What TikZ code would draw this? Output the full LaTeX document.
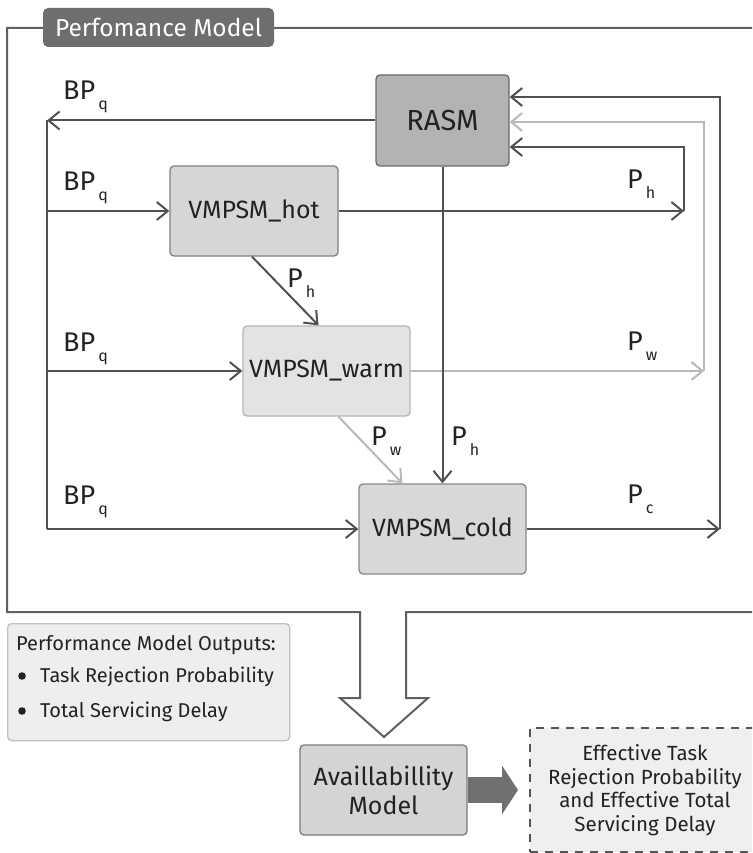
\documentclass[tikz,border=0pt]{standalone}
\usepackage{fontspec}
\setmainfont{Fira Sans}
\usetikzlibrary{arrows.meta}

\definecolor{wiredark}{HTML}{505050}
\definecolor{wirelight}{HTML}{B8B8B8}
\definecolor{framecol}{HTML}{606060}
\definecolor{rasmfill}{HTML}{B3B3B3}
\definecolor{rasmedge}{HTML}{6A6A6A}
\definecolor{hotfill}{HTML}{D6D6D6}
\definecolor{hotedge}{HTML}{808080}
\definecolor{warmfill}{HTML}{E3E3E3}
\definecolor{warmedge}{HTML}{B5B5B5}
\definecolor{coldfill}{HTML}{D8D8D8}
\definecolor{coldedge}{HTML}{888888}
\definecolor{outfill}{HTML}{EEEEEE}
\definecolor{outedge}{HTML}{C0C0C0}
\definecolor{availfill}{HTML}{D4D4D4}
\definecolor{availedge}{HTML}{7A7A7A}
\definecolor{bigarrow}{HTML}{707070}
\definecolor{resfill}{HTML}{EFEFEF}
\definecolor{resedge}{HTML}{555555}
\definecolor{tabfill}{HTML}{6E6E6E}
\definecolor{ink}{HTML}{222222}

% label with a lowered small index, e.g. BP with q
\newcommand{\idx}[2]{#1\hspace{3pt}\raisebox{-10pt}{\fontsize{16}{16}\selectfont #2}}

\begin{document}
\begin{tikzpicture}[x=1pt,y=-1pt,
  wire/.style={draw=wiredark, line width=2pt},
  lightwire/.style={draw=wirelight, line width=2pt},
  arr/.style={-{Straight Barb[length=11pt,width=18pt]}},
  stage/.style={rounded corners=4pt, line width=1.3pt, inner sep=0pt,
    text=ink, font=\fontsize{25}{30}\selectfont},
  lab/.style={anchor=base west, inner sep=0pt, text=ink,
    font=\fontsize{27}{30}\selectfont},
  frame/.style={draw=framecol, line width=2pt},
]
\clip (0,0) rectangle (752,853);

% outer frame of the performance model, ending in a hollow arrow
\draw[frame] (760,28) -- (7,28) -- (7,612) -- (360,612) -- (360,698)
  -- (340,698) -- (384,737) -- (428,698) -- (406,698) -- (406,612) -- (760,612);
\node[fill=tabfill, rounded corners=5pt, minimum width=231pt, minimum height=39pt,
  inner sep=0pt, text=white, font=\fontsize{24.5}{28}\selectfont]
  (title) at (158.5,27.5) {Perfomance Model};

% sub-models
\node[stage, fill=rasmfill, draw=rasmedge, minimum width=133pt, minimum height=91pt,
  font=\fontsize{29}{32}\selectfont]
  (rasm) at (442.5,120.5) {RASM};
\node[stage, fill=hotfill, draw=hotedge, minimum width=168pt, minimum height=90pt]
  (hot) at (254,211) {VMPSM\_hot};
\node[stage, fill=warmfill, draw=warmedge, minimum width=167pt, minimum height=90pt]
  (warm) at (326.5,371) {VMPSM\_warm};
\node[stage, fill=coldfill, draw=coldedge, minimum width=167pt, minimum height=90pt]
  (cold) at (442.5,529) {VMPSM\_cold};

% blocking-probability bus on the left
\coordinate (busTop) at (47,120.5);
\coordinate (busHot) at (47,211);
\coordinate (busWarm) at (47,371);
\coordinate (busCold) at (47,529);
\draw[wire,arr] (rasm.west) -- (busTop);
\draw[wire] (busTop) -- (busCold);
\draw[wire,arr] (busHot) -- (hot.west);
\draw[wire,arr] (busWarm) -- (warm.west);
\draw[wire,arr] (busCold) -- (cold.west);

% outputs fed back to RASM
\coordinate (hotOut) at (684,211);
\coordinate (warmOut) at (704,371);
\coordinate (coldOut) at (720,529);
\draw[wire,arr] (hot.east) -- (hotOut);
\draw[wire,arr] (hotOut) |- ([yshift=-26.5pt]rasm.east);
\draw[lightwire,arr] (warm.east) -- (warmOut);
\draw[lightwire,arr] (warmOut) |- ([yshift=-1.5pt]rasm.east);
\draw[wire,arr] (cold.east) -- (coldOut);
\draw[wire,arr] (coldOut) |- ([yshift=23.5pt]rasm.east);

% cascade between pools
\draw[wire,arr] ([xshift=-2pt]hot.south) -- ([xshift=-8pt]warm.north);
\draw[lightwire,arr] ([xshift=12pt]warm.south) -- ([xshift=-40pt]cold.north);
\draw[wire,arr] (rasm.south) -- (cold.north);

% probabilities
\node[lab] (bq1) at (63,100) {\idx{BP}{q}};
\node[lab] (bq2) at (63,190) {\idx{BP}{q}};
\node[lab] (bq3) at (63,351) {\idx{BP}{q}};
\node[lab] (bq4) at (63,504) {\idx{BP}{q}};
\node[lab] (ph1) at (627,188) {\idx{P}{h}};
\node[lab] (pw1) at (627,350) {\idx{P}{w}};
\node[lab] (pc1) at (627,503) {\idx{P}{c}};
\node[lab] (ph2) at (287,287) {\idx{P}{h}};
\node[lab] (pw2) at (371,445) {\idx{P}{w}};
\node[lab] (ph3) at (451,445) {\idx{P}{h}};

% outputs of the performance model
\node[fill=outfill, draw=outedge, line width=1.3pt, rounded corners=4pt,
  anchor=north west, minimum width=282pt, minimum height=117pt, inner sep=0pt]
  (outs) at (7,623) {};
\node[anchor=base west, inner sep=0pt, text=ink, font=\fontsize{20}{24}\selectfont]
  (outhead) at (16,650) {Performance Model Outputs:};
\fill[ink] (22,676) circle (3.8pt);
\fill[ink] (22,711) circle (3.8pt);
\node[anchor=base west, inner sep=0pt, text=ink, font=\fontsize{20}{24}\selectfont]
  (out1) at (40,682) {Task Rejection Probability};
\node[anchor=base west, inner sep=0pt, text=ink, font=\fontsize{20}{24}\selectfont]
  (out2) at (40,717) {Total Servicing Delay};

% availability model and its result
\node[stage, fill=availfill, draw=availedge, minimum width=167pt, minimum height=90pt,
  align=center, font=\fontsize{25}{29}\selectfont]
  (avail) at (383.5,790) {Availlabillity\\Model};
\node[fill=resfill, draw=resedge, line width=2pt, dash pattern=on 8pt off 7pt,
  anchor=north west, minimum width=230pt, minimum height=124pt, inner sep=0pt,
  align=center, text=ink, font=\fontsize{20.5}{23.5}\selectfont]
  (result) at (529,727) {Effective Task\\Rejection Probability\\and Effective Total\\Servicing Delay};
\draw[draw=bigarrow, line width=26pt, shorten >=11pt,
  -{Triangle[length=16pt,width=48pt]}] (avail.east) -- (result.west);

\end{tikzpicture}
\end{document}
